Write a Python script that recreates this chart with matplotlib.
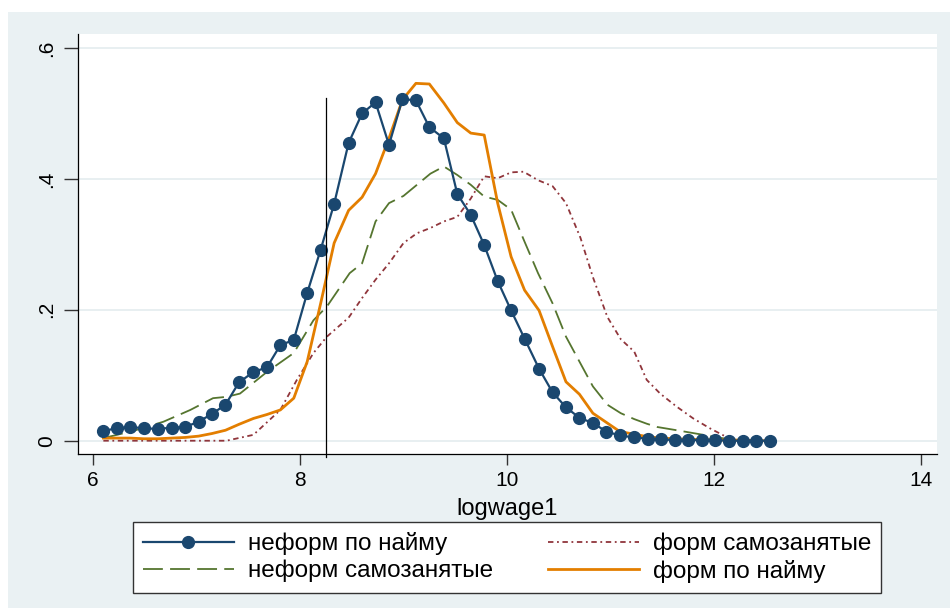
import matplotlib
matplotlib.use("Agg")
import matplotlib.pyplot as plt
from matplotlib.patches import Rectangle

plt.rcParams['font.family'] = ['Liberation Sans', 'DejaVu Sans']

# kernel density curves of logwage1
x_inf_hired = [6.10, 6.23, 6.36, 6.49, 6.63, 6.76, 6.89, 7.02, 7.15, 7.28,
               7.41, 7.55, 7.68, 7.81, 7.94, 8.07, 8.20, 8.33, 8.47, 8.60,
               8.73, 8.86, 8.99, 9.12, 9.25, 9.39, 9.52, 9.65, 9.78, 9.91,
               10.04, 10.17, 10.31, 10.44, 10.57, 10.70, 10.83, 10.96, 11.09, 11.23,
               11.36, 11.49, 11.62, 11.75, 11.88, 12.01, 12.15, 12.28, 12.41, 12.54]
y_inf_hired = [0.015, 0.019, 0.021, 0.019, 0.018, 0.020, 0.021, 0.029, 0.041, 0.055,
               0.089, 0.105, 0.112, 0.146, 0.154, 0.226, 0.292, 0.362, 0.455, 0.500,
               0.517, 0.452, 0.522, 0.520, 0.479, 0.462, 0.377, 0.345, 0.299, 0.244,
               0.199, 0.156, 0.110, 0.074, 0.051, 0.035, 0.027, 0.014, 0.008, 0.005,
               0.003, 0.002, 0.001, 0.001, 0.001, 0.001, 0.000, 0.000, 0.000, 0.000]

x_form_hired = x_inf_hired
y_form_hired = [0.004, 0.004, 0.004, 0.003, 0.003, 0.004, 0.005, 0.007, 0.011, 0.016,
                0.025, 0.034, 0.040, 0.047, 0.065, 0.121, 0.210, 0.302, 0.352, 0.372,
                0.408, 0.462, 0.521, 0.546, 0.545, 0.516, 0.486, 0.470, 0.467, 0.363,
                0.281, 0.230, 0.199, 0.144, 0.090, 0.071, 0.042, 0.028, 0.014, 0.010,
                0.006, 0.004, 0.003, 0.002, 0.002, 0.001, 0.001, 0.001, 0.000, 0.000]

x_inf_self = [6.10, 6.39, 6.68, 6.94, 7.16, 7.29, 7.42, 7.68, 7.94, 8.13,
              8.26, 8.48, 8.60, 8.73, 8.86, 9.00, 9.13, 9.26, 9.39, 9.52,
              9.65, 9.78, 9.91, 10.04, 10.17, 10.30, 10.44, 10.57, 10.71, 10.83,
              10.97, 11.10, 11.23, 11.35, 11.45, 11.64, 11.86, 12.03, 12.25]
y_inf_self = [0.004, 0.015, 0.029, 0.047, 0.065, 0.067, 0.072, 0.105, 0.134, 0.184,
              0.205, 0.256, 0.271, 0.335, 0.363, 0.374, 0.391, 0.408, 0.419, 0.406,
              0.391, 0.373, 0.368, 0.353, 0.304, 0.256, 0.210, 0.159, 0.118, 0.083,
              0.055, 0.042, 0.033, 0.026, 0.021, 0.016, 0.010, 0.005, 0.000]

x_form_self = [6.10, 7.29, 7.55, 7.81, 7.97, 8.13, 8.26, 8.47, 8.60, 8.73,
               8.86, 9.00, 9.13, 9.26, 9.39, 9.52, 9.65, 9.78, 9.91, 10.04,
               10.16, 10.30, 10.44, 10.57, 10.71, 10.83, 10.97, 11.10, 11.23, 11.35,
               11.48, 11.64, 11.80, 11.96, 12.19]
y_form_self = [0.000, 0.000, 0.009, 0.047, 0.093, 0.134, 0.159, 0.188, 0.218, 0.246,
               0.271, 0.302, 0.317, 0.325, 0.335, 0.342, 0.370, 0.404, 0.401, 0.410,
               0.411, 0.398, 0.389, 0.363, 0.310, 0.250, 0.189, 0.155, 0.136, 0.093,
               0.072, 0.052, 0.034, 0.019, 0.000]

cutoff = 8.25
cutoff_top = 0.523

x_ticks = [6, 8, 10, 12, 14]
y_ticks = [0, 0.2, 0.4, 0.6]
y_tick_labels = ['0', '.2', '.4', '.6']

W, H = 950, 614
fig = plt.figure(figsize=(9.5, 6.14), dpi=100, facecolor='white')
fig.patches.append(Rectangle((8 / W, 1 - 608 / H), 942 / W, 596 / H,
                             transform=fig.transFigure, facecolor='#EAF1F3',
                             edgecolor='none', zorder=-10))

ax = fig.add_axes([78 / W, 1 - 454 / H, 859 / W, 420 / H])
ax.set_facecolor('white')

for v in y_ticks:
    ax.axhline(v, color='#E4ECEF', lw=1.2, zorder=0)

l1, = ax.plot(x_inf_hired, y_inf_hired, color='#1A476F', lw=1.6, marker='o',
              markersize=8.5, zorder=5)
l2, = ax.plot(x_form_self, y_form_self, color='#90353B', lw=1.3,
              linestyle=(0, (3, 2, 1, 2)), zorder=3)
l3, = ax.plot(x_inf_self, y_inf_self, color='#55752F', lw=1.3,
              linestyle=(0, (11, 4)), zorder=3)
l4, = ax.plot(x_form_hired, y_form_hired, color='#E37E00', lw=2.0, zorder=4)

ax.plot([cutoff, cutoff], [-0.025, cutoff_top], color='black', lw=0.9,
        clip_on=False, zorder=6)

ax.set_xlim(5.855, 14.155)
ax.set_ylim(-0.0203, 0.6214)
ax.set_xticks(x_ticks)
ax.set_yticks(y_ticks)
ax.set_yticklabels(y_tick_labels, rotation=90, va='center')
ax.tick_params(axis='both', labelsize=15, color='#333333', width=1)
ax.tick_params(axis='y', length=10, pad=6)
ax.tick_params(axis='x', length=8, pad=4)
for s in ['top', 'right']:
    ax.spines[s].set_visible(False)
for s in ['left', 'bottom']:
    ax.spines[s].set_color('black')
    ax.spines[s].set_linewidth(0.9)
ax.set_xlabel('logwage1', fontsize=17, labelpad=6)

# legend is filled row by row, as in the original
handles = [l1, l3, l2, l4]
labels = ['неформ по найму', 'неформ самозанятые', 'форм самозанятые', 'форм по найму']
leg = fig.legend(handles, labels, ncol=2, mode='expand', loc='center',
                 bbox_to_anchor=(133 / W, 1 - 592 / H, 748 / W, 69 / H),
                 borderaxespad=0, fontsize=17.5, frameon=True, fancybox=False,
                 framealpha=1, handlelength=3.75, handletextpad=0.58,
                 labelspacing=0.2, borderpad=0.4, columnspacing=1.8)
leg.get_frame().set_edgecolor('#333333')
leg.get_frame().set_linewidth(1.0)

fig.savefig('out.png', dpi=100)
